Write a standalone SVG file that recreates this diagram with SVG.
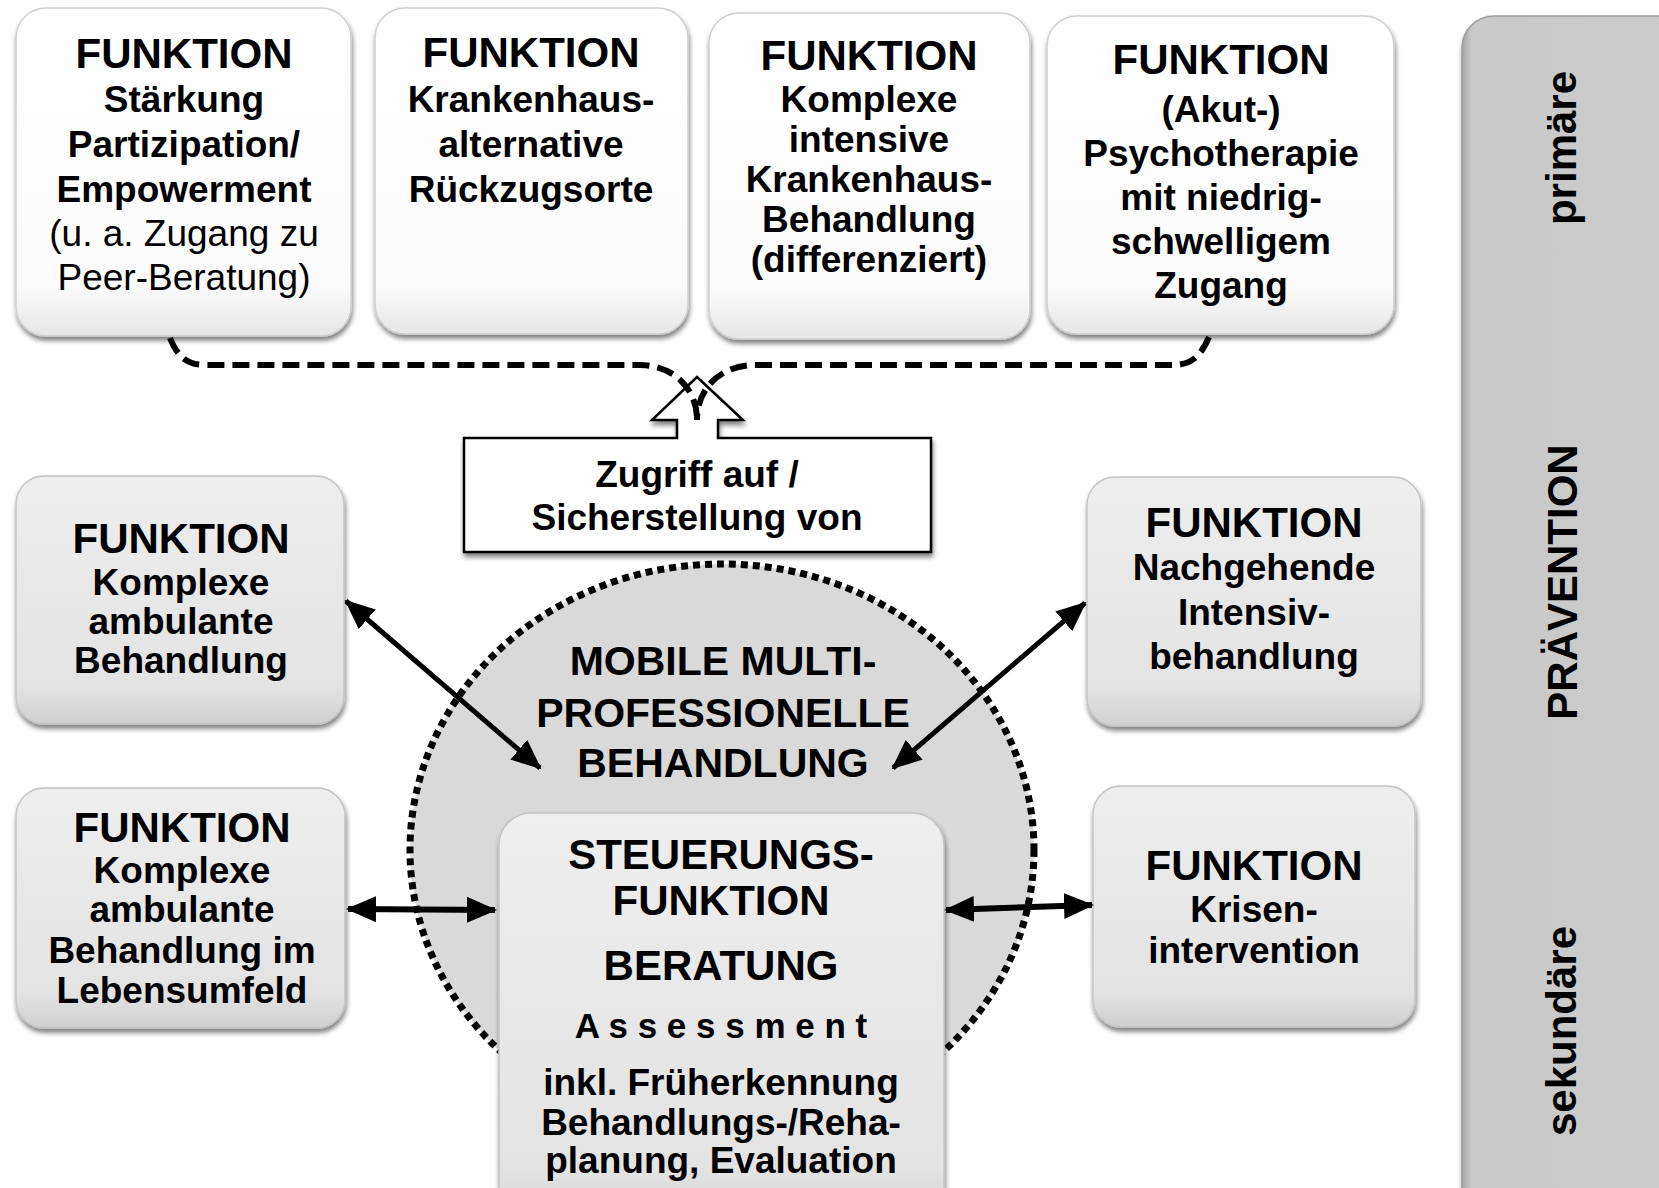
<svg xmlns="http://www.w3.org/2000/svg" width="1659" height="1188" viewBox="0 0 1659 1188">
<defs>
<style>
text{font-family:"Liberation Sans",Arial,sans-serif;font-weight:bold;fill:#000;text-anchor:middle}
.t{font-size:42px}
.s{font-size:37px}
.r{font-weight:normal}
.wbox{fill:url(#gw);stroke:#cfcfcf;stroke-width:1.5}
.gbox{fill:url(#gg);stroke:#c4c4c4;stroke-width:1.5}
.dash{fill:none;stroke:#000;stroke-width:6;stroke-dasharray:17 8}
.arr{fill:none;stroke:#000;stroke-width:5}
</style>
<linearGradient id="gw" x1="0" y1="0" x2="0" y2="1">
<stop offset="0" stop-color="#ffffff"/><stop offset="0.85" stop-color="#fbfbfb"/><stop offset="1" stop-color="#e6e6e6"/>
</linearGradient>
<linearGradient id="gg" x1="0" y1="0" x2="0" y2="1">
<stop offset="0" stop-color="#eeeeee"/><stop offset="0.85" stop-color="#e3e3e3"/><stop offset="1" stop-color="#d0d0d0"/>
</linearGradient>
<linearGradient id="gside" x1="0" y1="0" x2="1" y2="0">
<stop offset="0" stop-color="#a6a6a6"/><stop offset="0.04" stop-color="#c9c9c9"/><stop offset="1" stop-color="#cbcbcb"/>
</linearGradient>
<filter id="sh" x="-10%" y="-10%" width="125%" height="125%">
<feGaussianBlur in="SourceAlpha" stdDeviation="2.5"/>
<feOffset dx="1" dy="4" result="o"/>
<feComponentTransfer><feFuncA type="linear" slope="0.5"/></feComponentTransfer>
<feMerge><feMergeNode/><feMergeNode in="SourceGraphic"/></feMerge>
</filter>
<marker id="ah" viewBox="0 0 30 26" refX="28" refY="13" markerWidth="30" markerHeight="26" markerUnits="userSpaceOnUse" orient="auto-start-reverse">
<path d="M0,0 L30,13 L0,26 Z" fill="#000"/>
</marker>
</defs>
<rect width="1659" height="1188" fill="#fff"/>

<g id="sidebar">
<rect x="1462" y="16" width="240" height="1220" rx="32" fill="url(#gside)" stroke="#9c9c9c" stroke-width="1.5" filter="url(#sh)"/>
<text class="t" transform="translate(1576,148) rotate(-90)">primäre</text>
<text class="t" transform="translate(1577,582) rotate(-90)">PRÄVENTION</text>
<text class="t" transform="translate(1576,1031) rotate(-90)">sekundäre</text>
</g>

<g id="mobile">
<ellipse cx="722" cy="850" rx="312" ry="286" fill="#d9d9d9" stroke="#000" stroke-width="7" stroke-dasharray="7 5"/>
<text class="s" style="font-size:41px" x="723" y="675">MOBILE MULTI-</text>
<text class="s" style="font-size:41px" x="723" y="727">PROFESSIONELLE</text>
<text class="s" style="font-size:41px" x="723" y="777">BEHANDLUNG</text>
</g>

<g id="top1">
<rect class="wbox" x="16" y="8" width="335" height="328" rx="30" filter="url(#sh)"/>
<text class="t" x="184" y="68">FUNKTION</text>
<text class="s" x="184" y="112">Stärkung</text>
<text class="s" x="184" y="157">Partizipation/</text>
<text class="s" x="184" y="202">Empowerment</text>
<text class="s r" x="184" y="246">(u. a. Zugang zu</text>
<text class="s r" x="184" y="290">Peer-Beratung)</text>
</g>

<g id="top2">
<rect class="wbox" x="375" y="8" width="313" height="326" rx="30" filter="url(#sh)"/>
<text class="t" x="531" y="67">FUNKTION</text>
<text class="s" x="531" y="112">Krankenhaus-</text>
<text class="s" x="531" y="157">alternative</text>
<text class="s" x="531" y="202">Rückzugsorte</text>
</g>

<g id="top3">
<rect class="wbox" x="709" y="13" width="321" height="326" rx="30" filter="url(#sh)"/>
<text class="t" x="869" y="70">FUNKTION</text>
<text class="s" x="869" y="112">Komplexe</text>
<text class="s" x="869" y="152">intensive</text>
<text class="s" x="869" y="192">Krankenhaus-</text>
<text class="s" x="869" y="232">Behandlung</text>
<text class="s" x="869" y="272">(differenziert)</text>
</g>

<g id="top4">
<rect class="wbox" x="1047" y="16" width="347" height="318" rx="30" filter="url(#sh)"/>
<text class="t" x="1221" y="74">FUNKTION</text>
<text class="s" x="1221" y="122">(Akut-)</text>
<text class="s" x="1221" y="166">Psychotherapie</text>
<text class="s" x="1221" y="210">mit niedrig-</text>
<text class="s" x="1221" y="254">schwelligem</text>
<text class="s" x="1221" y="298">Zugang</text>
</g>

<g id="zugriff">
<path d="M464,438 H677 V420 H652 L697,377 L743,420 H718 V438 H931 V552 H464 Z" fill="#fff" stroke="#000" stroke-width="2.5" filter="url(#sh)"/>
<text class="s" x="697" y="487">Zugriff auf /</text>
<text class="s" x="697" y="530">Sicherstellung von</text>
</g>

<g id="boxA">
<rect class="gbox" x="16" y="476" width="328" height="248" rx="28" filter="url(#sh)"/>
<text class="t" x="181" y="553">FUNKTION</text>
<text class="s" x="181" y="595">Komplexe</text>
<text class="s" x="181" y="634">ambulante</text>
<text class="s" x="181" y="673">Behandlung</text>
</g>

<g id="boxB">
<rect class="gbox" x="16" y="788" width="329" height="240" rx="28" filter="url(#sh)"/>
<text class="t" x="182" y="842">FUNKTION</text>
<text class="s" x="182" y="883">Komplexe</text>
<text class="s" x="182" y="922">ambulante</text>
<text class="s" x="182" y="963">Behandlung im</text>
<text class="s" x="182" y="1003">Lebensumfeld</text>
</g>

<g id="boxC">
<rect class="gbox" x="1087" y="477" width="334" height="249" rx="28" filter="url(#sh)"/>
<text class="t" x="1254" y="537">FUNKTION</text>
<text class="s" x="1254" y="580">Nachgehende</text>
<text class="s" x="1254" y="625">Intensiv-</text>
<text class="s" x="1254" y="669">behandlung</text>
</g>

<g id="boxD">
<rect class="gbox" x="1093" y="786" width="322" height="241" rx="28" filter="url(#sh)"/>
<text class="t" x="1254" y="880">FUNKTION</text>
<text class="s" x="1254" y="922">Krisen-</text>
<text class="s" x="1254" y="963">intervention</text>
</g>

<g id="steuerung">
<rect class="gbox" x="499" y="813" width="445" height="420" rx="32" filter="url(#sh)"/>
<text class="t" x="721" y="869">STEUERUNGS-</text>
<text class="t" x="721" y="915">FUNKTION</text>
<text class="t" x="721" y="980">BERATUNG</text>
<text class="s" style="font-size:35px" x="721" y="1038">A s s e s s m e n t</text>
<text class="s" x="721" y="1095">inkl. Früherkennung</text>
<text class="s" x="721" y="1135">Behandlungs-/Reha-</text>
<text class="s" x="721" y="1173">planung, Evaluation</text>
</g>

<g id="connectors">
<path class="dash" d="M170,338 C178,358 188,365 206,365 H640 C672,365 697,387 697,420"/>
<path class="dash" d="M1209,337 C1200,358 1190,365 1172,365 H755 C722,365 697,387 697,420"/>
<line class="arr" x1="346" y1="601" x2="540" y2="768" marker-start="url(#ah)" marker-end="url(#ah)"/>
<line class="arr" x1="1085" y1="603" x2="893" y2="768" marker-start="url(#ah)" marker-end="url(#ah)"/>
<line class="arr" style="stroke-width:6" x1="348" y1="909" x2="495" y2="910" marker-start="url(#ah)" marker-end="url(#ah)"/>
<line class="arr" style="stroke-width:6" x1="946" y1="910" x2="1092" y2="905" marker-start="url(#ah)" marker-end="url(#ah)"/>
</g>
</svg>
